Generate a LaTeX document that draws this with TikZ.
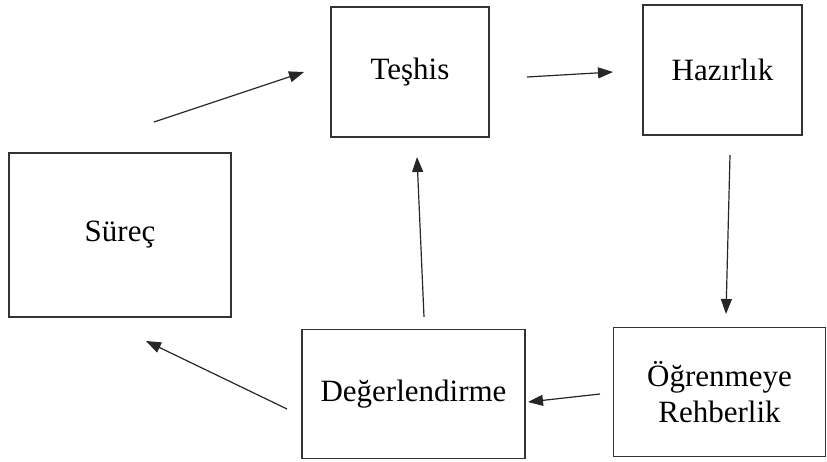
\documentclass[tikz,border=0pt]{standalone}
\usepackage{fontspec}
\setmainfont{Liberation Serif}
\usetikzlibrary{arrows.meta}
\begin{document}
\begin{tikzpicture}[x=1pt,y=-1pt,
  box/.style={draw=black!80, line width=1.2pt, inner sep=0pt, align=center,
    font=\fontsize{31}{36}\selectfont},
  conn/.style={draw=black!85, line width=1.2pt, -{Triangle[length=15pt,width=11pt]}}]
\useasboundingbox (0,0) rectangle (827,461);
\node[box, minimum width=158, minimum height=130] (tes) at (410,72) {Teşhis};
\node[box, minimum width=159, minimum height=130] (haz) at (722.5,70) {Hazırlık};
\node[box, minimum width=222, minimum height=164] (sur) at (120,235) {Süreç};
\node[box, minimum width=223, minimum height=129] (deg) at (413.5,394) {Değerlendirme};
\node[box, minimum width=212, minimum height=129] (ogr) at (719.5,392) {Öğrenmeye\\Rehberlik};
\coordinate (s1) at (154,122);
\coordinate (t1) at (304,72);
\coordinate (t2) at (527,77);
\coordinate (h1) at (613,72);
\coordinate (h2) at (730,155);
\coordinate (o1) at (726,314);
\coordinate (o2) at (600,394);
\coordinate (d1) at (528,402);
\coordinate (d2) at (424,317);
\coordinate (t3) at (417,157);
\coordinate (d3) at (287,409);
\coordinate (s2) at (146,341);
\draw[conn] (s1) -- (t1);
\draw[conn] (t2) -- (h1);
\draw[conn] (h2) -- (o1);
\draw[conn] (o2) -- (d1);
\draw[conn] (d2) -- (t3);
\draw[conn] (d3) -- (s2);
\end{tikzpicture}
\end{document}
